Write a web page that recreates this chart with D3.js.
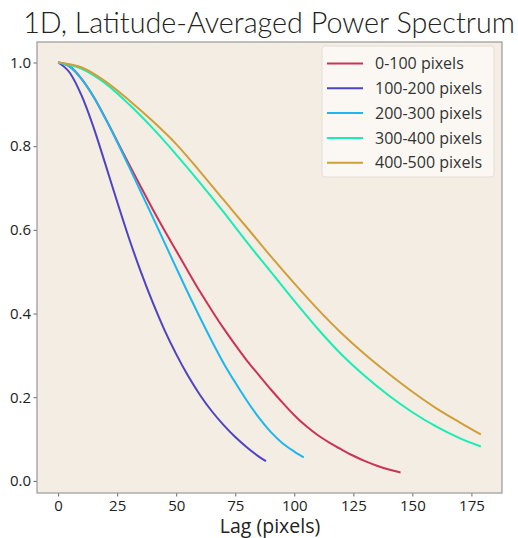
<!DOCTYPE html>
<html lang="en">
<head>
<meta charset="UTF-8">
<title>1D, Latitude-Averaged Power Spectrum</title>
<script src="https://d3js.org/d3.v7.min.js"></script>
<style>
  body { margin: 0; background: #fff; }
  text { font-family: "Open Sans", sans-serif; }
</style>
</head>
<body>
<svg width="518" height="538"></svg>
<script>
// series: lag (pixels) and autocorrelation values
const seriesNames = ["0-100 pixels", "100-200 pixels", "200-300 pixels", "300-400 pixels", "400-500 pixels"];
const seriesColors = ["#cc3356", "#4c44c4", "#1cb6f0", "#18eeb4", "#cf9f3a"];

const lags0 = [0, 5, 10, 15, 20, 25, 30, 35, 40, 45, 50, 55, 60, 65, 70, 75, 80, 85, 90, 95, 100, 105, 110, 115, 120, 125, 130, 135, 140, 145];
const vals0 = [1.0, 0.99, 0.96, 0.918, 0.867, 0.812, 0.757, 0.703, 0.65, 0.599, 0.55, 0.501, 0.453, 0.408, 0.365, 0.325, 0.287, 0.253, 0.219, 0.187, 0.157, 0.131, 0.109, 0.091, 0.075, 0.06, 0.047, 0.036, 0.027, 0.02];

const lags1 = [0, 5, 10, 15, 20, 25, 30, 35, 40, 45, 50, 55, 60, 65, 70, 75, 80, 85, 88];
const vals1 = [1.0, 0.975, 0.92, 0.845, 0.757, 0.667, 0.58, 0.50, 0.427, 0.361, 0.303, 0.251, 0.206, 0.167, 0.134, 0.105, 0.08, 0.058, 0.047];

const lags2 = [0, 5, 10, 15, 20, 25, 30, 35, 40, 45, 50, 55, 60, 65, 70, 75, 80, 85, 90, 95, 100, 104];
const vals2 = [1.0, 0.99, 0.96, 0.918, 0.866, 0.81, 0.751, 0.691, 0.631, 0.57, 0.509, 0.449, 0.391, 0.335, 0.282, 0.235, 0.191, 0.151, 0.117, 0.09, 0.07, 0.056];

const lags3 = [0, 10, 20, 30, 40, 50, 60, 70, 80, 90, 100, 110, 120, 130, 140, 150, 160, 170, 179];
const vals3 = [1.0, 0.985, 0.95, 0.9, 0.843, 0.78, 0.713, 0.643, 0.57, 0.5, 0.43, 0.363, 0.302, 0.25, 0.204, 0.164, 0.13, 0.102, 0.082];

const lags4 = [0, 10, 20, 30, 40, 50, 60, 70, 80, 90, 100, 110, 120, 130, 140, 150, 160, 170, 179];
const vals4 = [1.0, 0.988, 0.955, 0.91, 0.86, 0.805, 0.74, 0.672, 0.605, 0.537, 0.472, 0.41, 0.353, 0.302, 0.256, 0.213, 0.174, 0.14, 0.111];

const xTicks = [0, 25, 50, 75, 100, 125, 150, 175];
const yTicks = [0.0, 0.2, 0.4, 0.6, 0.8, 1.0];

const allLags = [lags0, lags1, lags2, lags3, lags4];
const allVals = [vals0, vals1, vals2, vals3, vals4];

const svg = d3.select("svg"),
    width = +svg.attr("width"),
    height = +svg.attr("height"),
    margin = { top: 42, right: 16, bottom: 45, left: 37 };

const x = d3.scaleLinear().domain([-8.95, 187.95]).range([margin.left, width - margin.right]);
const y = d3.scaleLinear().domain([-0.029, 1.049]).range([height - margin.bottom, margin.top]);

// plot background
svg.append("rect")
    .attr("x", margin.left).attr("y", margin.top)
    .attr("width", width - margin.left - margin.right)
    .attr("height", height - margin.top - margin.bottom)
    .attr("fill", "#f4ede3");

// axes
const xAxis = svg.append("g")
    .attr("transform", `translate(0,${height - margin.bottom})`)
    .call(d3.axisBottom(x).tickValues(xTicks).tickSize(3.5).tickPadding(4).tickFormat(d3.format("d")));
const yAxis = svg.append("g")
    .attr("transform", `translate(${margin.left},0)`)
    .call(d3.axisLeft(y).tickValues(yTicks).tickSize(3.5).tickPadding(2.5).tickFormat(d3.format(".1f")));

[xAxis, yAxis].forEach(a => {
    a.select(".domain").remove();
    a.selectAll(".tick line").attr("stroke", "#666");
    a.selectAll(".tick text").attr("font-size", 15).attr("fill", "#222");
});

// lines
const line = d3.line().curve(d3.curveMonotoneX);
allLags.forEach((lags, i) => {
    const pts = lags.map((l, j) => [x(l), y(allVals[i][j])]);
    svg.append("path")
        .attr("d", line(pts))
        .attr("fill", "none")
        .attr("stroke", seriesColors[i])
        .attr("stroke-width", 2);
});

// frame
svg.append("rect")
    .attr("x", margin.left).attr("y", margin.top)
    .attr("width", width - margin.left - margin.right)
    .attr("height", height - margin.top - margin.bottom)
    .attr("fill", "none")
    .attr("stroke", "#999")
    .attr("stroke-width", 1.2);

// legend
const legend = svg.append("g");
legend.append("rect")
    .attr("x", 322).attr("y", 46).attr("width", 172).attr("height", 131)
    .attr("rx", 3)
    .attr("fill", "#ffffff").attr("fill-opacity", 0.6)
    .attr("stroke", "#e2ddd6");
seriesNames.forEach((name, i) => {
    const cy = 63.5 + i * 24.8;
    legend.append("line")
        .attr("x1", 327).attr("x2", 363).attr("y1", cy).attr("y2", cy)
        .attr("stroke", seriesColors[i]).attr("stroke-width", 2);
    legend.append("text")
        .attr("x", 375).attr("y", cy).attr("dy", "0.35em")
        .attr("font-size", 16).attr("fill", "#333")
        .text(name);
});

// title
const title = svg.append("text")
    .attr("x", 269).attr("y", 33)
    .attr("text-anchor", "middle")
    .style("font-family", "Lato, sans-serif")
    .style("font-weight", 300)
    .attr("font-size", 24)
    .attr("fill", "#222")
    .text("1D, Latitude-Averaged Power Spectrum");
const tw = title.node().getComputedTextLength();
title.attr("font-size", 24 * 492 / tw);

// x label
svg.append("text")
    .attr("x", 270).attr("y", 533)
    .attr("text-anchor", "middle")
    .attr("font-size", 19.5).attr("fill", "#222")
    .text("Lag (pixels)");
</script>
</body>
</html>
